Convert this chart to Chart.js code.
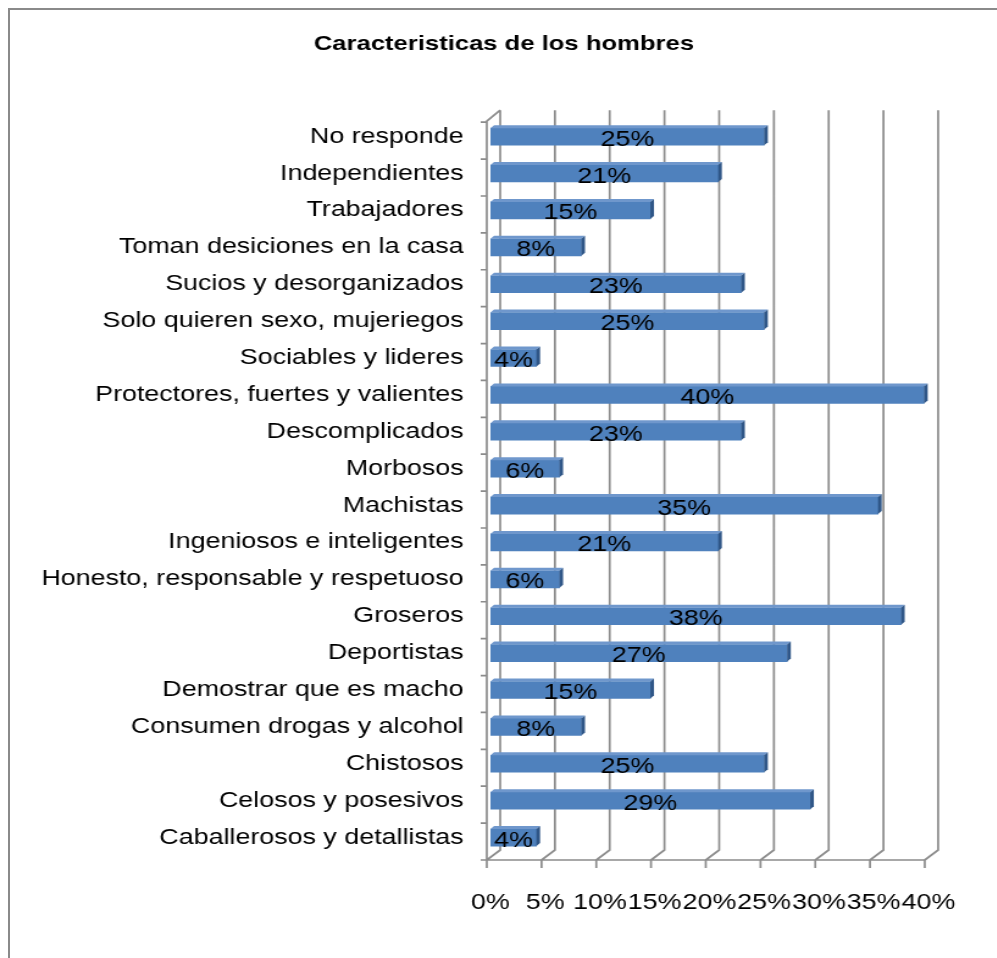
<!DOCTYPE html>
<html>
<head>
<meta charset="utf-8">
<script src="https://cdn.jsdelivr.net/npm/chart.js@4.4.1/dist/chart.umd.min.js"></script>
<style>
  html, body { margin: 0; padding: 0; background: #fff; overflow: hidden; }
  #frame { position: absolute; left: 8px; top: 8px; width: 1100px; height: 1100px; border: 2px solid #8a8a8a; }
  /* the original picture is stretched sideways, so the whole chart is too */
  #wrap { position: absolute; left: 0; top: 0; width: 817px; height: 958px; transform: scaleX(1.22); transform-origin: 0 0; }
</style>
</head>
<body>
<div id="frame"></div>
<div id="wrap"><canvas id="chart" width="817" height="958"></canvas></div>
<script>
const categories = [
  'No responde',
  'Independientes',
  'Trabajadores',
  'Toman desiciones en la casa',
  'Sucios y desorganizados',
  'Solo quieren sexo, mujeriegos',
  'Sociables y lideres',
  'Protectores, fuertes y valientes',
  'Descomplicados',
  'Morbosos',
  'Machistas',
  'Ingeniosos e inteligentes',
  'Honesto, responsable y respetuoso',
  'Groseros',
  'Deportistas',
  'Demostrar que es macho',
  'Consumen drogas y alcohol',
  'Chistosos',
  'Celosos y posesivos',
  'Caballerosos y detallistas'
];
// bar lengths (labels show them rounded)
const percentages = [25, 20.8, 14.6, 8.3, 22.9, 25, 4.2, 39.6, 22.9, 6.3, 35.4, 20.8, 6.3, 37.5, 27.1, 14.6, 8.3, 25, 29.2, 4.2];
const xTicks = [0, 5, 10, 15, 20, 25, 30, 35, 40];

const FONT = "'Liberation Sans', Arial, sans-serif";
const GRID = '#8c8c8c';

// fake Excel 3D walls, floor and gridlines
const walls = {
  id: 'walls',
  beforeDatasetsDraw(chart) {
    const { ctx, chartArea: a, scales: { x } } = chart;
    ctx.save();
    ctx.strokeStyle = GRID;
    ctx.lineWidth = 1.7;
    const fb = a.bottom + 4, bb = a.bottom - 6, bt = a.top - 8;
    ctx.beginPath();
    for (const v of xTicks) {
      const px = x.getPixelForValue(v);
      ctx.moveTo(px + 8, bt);
      ctx.lineTo(px + 8, bb);
      ctx.lineTo(px - 3, fb);
      ctx.lineTo(px - 3, fb + 8);
    }
    // floor front edge
    ctx.moveTo(x.getPixelForValue(0) - 3, fb);
    ctx.lineTo(x.getPixelForValue(40) - 3, fb);
    // left wall front edge and top
    const lx = x.getPixelForValue(0) - 3;
    ctx.moveTo(lx, fb);
    ctx.lineTo(lx, a.top + 3);
    ctx.lineTo(lx + 11, bt);
    // category marks
    const step = (a.bottom - a.top) / categories.length;
    for (let i = 0; i <= categories.length; i++) {
      const py = a.top + 4 + i * step;
      ctx.moveTo(lx - 5, py);
      ctx.lineTo(lx, py);
    }
    ctx.stroke();
    ctx.restore();
  },
  afterDatasetsDraw(chart) {
    const { ctx } = chart;
    const meta = chart.getDatasetMeta(0);
    ctx.save();
    meta.data.forEach((bar, i) => {
      const { x: xr, y: yc, base, height } = bar.getProps(['x', 'y', 'base', 'height'], true);
      const top = yc - height / 2, bot = yc + height / 2, d = 3;
      ctx.fillStyle = '#6f97cc';
      ctx.beginPath();
      ctx.moveTo(base, top); ctx.lineTo(base + d, top - d);
      ctx.lineTo(xr + d, top - d); ctx.lineTo(xr, top); ctx.closePath();
      ctx.fill();
      ctx.fillStyle = '#2f5687';
      ctx.beginPath();
      ctx.moveTo(xr, top); ctx.lineTo(xr + d, top - d);
      ctx.lineTo(xr + d, bot - d); ctx.lineTo(xr, bot); ctx.closePath();
      ctx.fill();
      ctx.fillStyle = '#000';
      ctx.font = '22px ' + FONT;
      ctx.textAlign = 'center';
      ctx.textBaseline = 'middle';
      ctx.fillText(Math.round(percentages[i]) + '%', (base + xr) / 2, yc + 3);
    });
    ctx.restore();
  }
};

new Chart(document.getElementById('chart'), {
  type: 'bar',
  data: {
    labels: categories,
    datasets: [{
      data: percentages,
      backgroundColor: '#4f81bd',
      barThickness: 17
    }]
  },
  options: {
    indexAxis: 'y',
    responsive: false,
    animation: false,
    layout: { padding: { left: 28, right: 19, top: 0, bottom: 0 } },
    plugins: {
      legend: { display: false },
      tooltip: { enabled: false },
      title: {
        display: true,
        text: 'Caracteristicas de los hombres',
        color: '#000',
        font: { family: FONT, size: 21, weight: 'bold', lineHeight: 1.2 },
        padding: { top: 32, bottom: 61 }
      }
    },
    scales: {
      x: {
        min: 0,
        max: 40,
        afterBuildTicks: (s) => { s.ticks = xTicks.map(v => ({ value: v })); },
        afterFit: (s) => { s.height = 102; },
        grid: { display: false, drawTicks: false },
        border: { display: false },
        ticks: {
          color: '#000',
          padding: 34,
          maxRotation: 0,
          autoSkip: false,
          font: { family: FONT, size: 22 },
          callback: (v) => v + '%'
        }
      },
      y: {
        afterFit: (s) => { s.width = 374; },
        grid: { display: false, drawTicks: false },
        border: { display: false },
        ticks: {
          color: '#000',
          padding: 22,
          autoSkip: false,
          font: { family: FONT, size: 22 }
        }
      },
      // empty right-hand box so the plot ends where the reference's does
      spacer: {
        type: 'linear',
        position: 'right',
        afterFit: (s) => { s.width = 29; },
        grid: { display: false },
        border: { display: false },
        ticks: { display: false }
      }
    }
  },
  plugins: [walls]
});
</script>
</body>
</html>
